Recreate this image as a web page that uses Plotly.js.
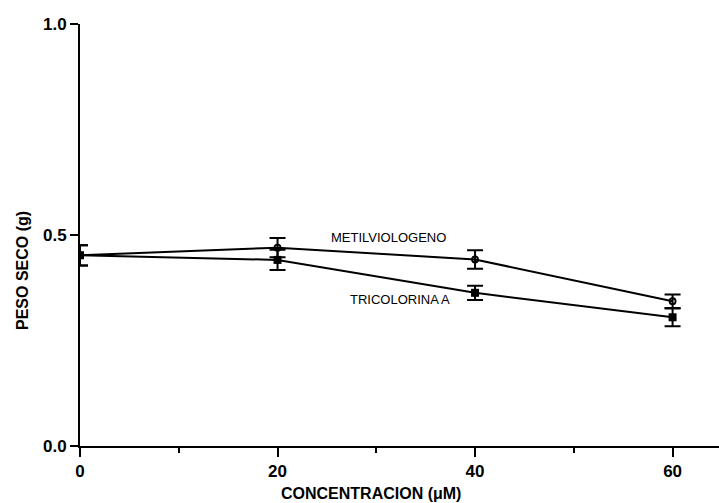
<!DOCTYPE html>
<html>
<head>
<meta charset="utf-8">
<script src="https://cdn.plot.ly/plotly-3.0.1.min.js"></script>
<style>html,body{margin:0;padding:0;background:#fff;}#chart{width:719px;height:503px;}</style>
</head>
<body>
<div id="chart"></div>
<script>
const conc = [0, 20, 40, 60];
const metilviologeno = [0.452, 0.470, 0.442, 0.343];
const metilErr = [0.024, 0.023, 0.022, 0.016];
const tricolorina = [0.452, 0.441, 0.363, 0.305];
const tricErr = [0.024, 0.024, 0.017, 0.021];
const xTicks = [0, 20, 40, 60];
const xTickText = ['0', '20', '40', '60'];
const yTicks = [0, 0.5, 1.0];
const yTickText = ['0.0', '0.5', '1.0'];

const FONT = 'Liberation Sans, Arial, sans-serif';
const bold = s => '<b>' + s + '</b>';

const traces = [
  {
    x: conc, y: metilviologeno, type: 'scatter', mode: 'lines+markers',
    name: 'METILVIOLOGENO',
    line: {color: '#000', width: 2},
    marker: {symbol: 'circle-open', size: 6, color: '#000', line: {width: 1.8, color: '#000'}},
    error_y: {type: 'data', array: metilErr, visible: true, color: '#000', thickness: 2, width: 8}
  },
  {
    x: conc, y: tricolorina, type: 'scatter', mode: 'lines+markers',
    name: 'TRICOLORINA A',
    line: {color: '#000', width: 2},
    marker: {symbol: 'square', size: 8, color: '#000'},
    error_y: {type: 'data', array: tricErr, visible: true, color: '#000', thickness: 2, width: 8}
  }
];

const layout = {
  width: 719, height: 503,
  margin: {l: 80, r: 0, t: 24, b: 57},
  paper_bgcolor: '#fff', plot_bgcolor: '#fff',
  showlegend: false,
  font: {family: FONT, color: '#000'},
  xaxis: {
    range: [0, 64.7], showgrid: false, zeroline: false,
    showline: true, linecolor: '#000', linewidth: 2,
    ticks: 'outside', ticklen: 9, tickwidth: 2, tickcolor: '#000',
    tickvals: xTicks, ticktext: xTickText.map(bold),
    tickfont: {family: FONT, size: 17, color: '#000'},
    minor: {tickvals: [10, 30, 50], ticks: 'outside', ticklen: 5, tickwidth: 2, tickcolor: '#000', showgrid: false}
  },
  yaxis: {
    range: [0, 1], showgrid: false, zeroline: false,
    showline: true, linecolor: '#000', linewidth: 2,
    ticks: 'outside', ticklen: 8, tickwidth: 2, tickcolor: '#000',
    tickvals: yTicks, ticktext: yTickText.map(bold),
    tickfont: {family: FONT, size: 17, color: '#000'}
  },
  annotations: [
    {text: 'METILVIOLOGENO', x: 31.2, y: 0.495, xref: 'x', yref: 'y', showarrow: false,
     xanchor: 'center', yanchor: 'middle',
     font: {family: FONT, size: 13, color: '#000'}},
    {text: 'TRICOLORINA A', x: 32.4, y: 0.346, xref: 'x', yref: 'y', showarrow: false,
     xanchor: 'center', yanchor: 'middle',
     font: {family: FONT, size: 13, color: '#000'}},
    {text: bold('CONCENTRACION (\u03BCM)'), x: 0.455, y: -0.112, xref: 'paper', yref: 'paper', showarrow: false,
     xanchor: 'center', yanchor: 'middle',
     font: {family: FONT, size: 16, color: '#000'}},
    {text: bold('PESO SECO (g)'), x: -0.089, y: 0.415, xref: 'paper', yref: 'paper', showarrow: false, textangle: -90,
     xanchor: 'center', yanchor: 'middle',
     font: {family: FONT, size: 16, color: '#000'}}
  ]
};

Plotly.newPlot('chart', traces, layout, {staticPlot: true, displayModeBar: false});
</script>
</body>
</html>
